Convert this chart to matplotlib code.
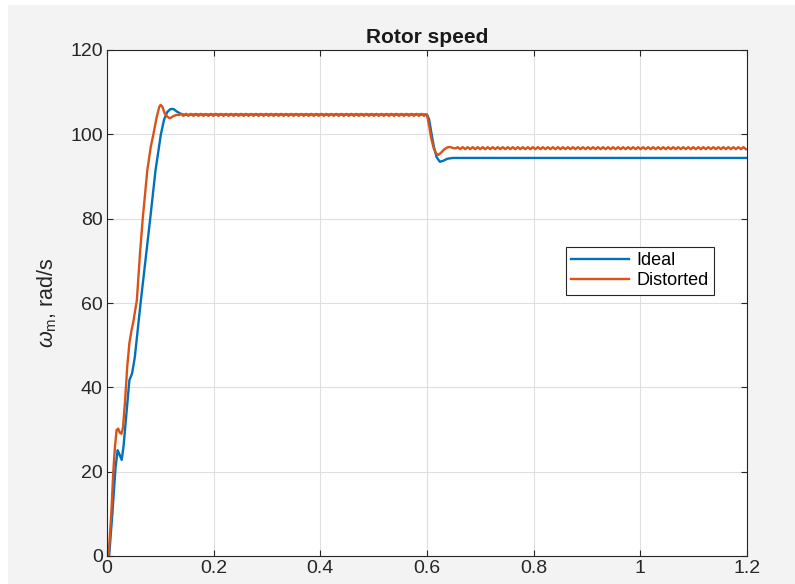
import numpy as np
import matplotlib
matplotlib.use("Agg")
import matplotlib.pyplot as plt
from matplotlib.patches import Rectangle

# --- data (time in s, speed in rad/s) ---
ideal_t = [0, 0.004, 0.010, 0.016, 0.020, 0.023, 0.0275, 0.031, 0.037, 0.042, 0.047,
           0.052, 0.063, 0.081, 0.091, 0.101, 0.107, 0.113, 0.119, 0.125, 0.131,
           0.138, 0.145, 0.160, 0.600, 0.604, 0.608, 0.613, 0.618, 0.624, 0.630,
           0.638, 0.648, 0.670, 1.2]
ideal_w = [0, 0, 10, 21, 25.1, 24.2, 22.8, 26, 34.6, 41.7, 43.3,
           47, 60, 80, 91.5, 100, 103.5, 105.3, 106, 106, 105.4,
           104.9, 104.6, 104.7, 104.7, 103.5, 100.5, 97, 94.6, 93.5, 93.7,
           94.2, 94.4, 94.4, 94.4]

dist_t = [0, 0.003, 0.008, 0.012, 0.015, 0.018, 0.021, 0.024, 0.027, 0.030, 0.034,
          0.038, 0.042, 0.046, 0.050, 0.056, 0.062, 0.067, 0.0756, 0.082, 0.087,
          0.093, 0.098, 0.1006, 0.104, 0.108, 0.113, 0.118, 0.124, 0.130]
dist_w = [0, 0, 10, 20.4, 26, 29.9, 30.2, 29.2, 29.0, 30.5, 37,
          45, 50.5, 53.5, 56, 60.7, 72, 80, 91.5, 97, 100,
          104, 106.5, 107, 106.5, 105, 104.2, 103.8, 104.3, 104.6]

dist_drop_t = [0.600, 0.604, 0.608, 0.613, 0.617, 0.621, 0.626, 0.632, 0.638, 0.643, 0.650]
dist_drop_w = [104.6, 102, 99, 96.5, 95.5, 95.1, 95.6, 96.4, 96.9, 97.0, 96.7]

dist_level_1 = 104.6   # steady speed before load step
dist_level_2 = 96.7    # steady speed after load step
ripple_period = 0.0094
ripple_shape = [0.0, 0.26, 0.05, -0.22]   # one ripple period, offsets in rad/s

x_ticks = [0, 0.2, 0.4, 0.6, 0.8, 1, 1.2]
x_labels = ['0', '0.2', '0.4', '0.6', '0.8', '1', '1.2']
y_ticks = [0, 20, 40, 60, 80, 100, 120]


def steady_with_ripple(t0, t1, level):
    dt = ripple_period / len(ripple_shape)
    t = np.arange(t0, t1, dt)
    w = level + np.resize(ripple_shape, len(t))
    return t, w


t1, w1 = steady_with_ripple(0.136, 0.598, dist_level_1)
t2, w2 = steady_with_ripple(0.655, 1.2001, dist_level_2)
orange_t = np.concatenate([dist_t, t1, dist_drop_t, t2])
orange_w = np.concatenate([dist_w, w1, dist_drop_w, w2])

plt.rcParams['font.family'] = ['Liberation Sans', 'DejaVu Sans']
plt.rcParams['mathtext.fontset'] = 'custom'
plt.rcParams['mathtext.it'] = 'Liberation Sans:italic'
plt.rcParams['mathtext.rm'] = 'Liberation Sans'

fig = plt.figure(figsize=(7.95, 5.84), dpi=100, facecolor='white')
fig.patches.append(Rectangle((8 / 795, 0), 1, 1 - 5 / 584, transform=fig.transFigure,
                             facecolor='#f3f3f3', edgecolor='none', zorder=-10))
ax = fig.add_axes([107 / 795, 28 / 584, 640 / 795, 506 / 584])
ax.set_facecolor('white')

ax.plot(ideal_t, ideal_w, color='#0072BD', lw=1.7, label='Ideal')
ax.plot(orange_t, orange_w, color='#D95319', lw=1.7, label='Distorted')

ax.set_xlim(0, 1.2)
ax.set_ylim(0, 120)
ax.set_xticks(x_ticks)
ax.set_xticklabels(x_labels)
ax.set_yticks(y_ticks)
ax.grid(True, color='#dfdfdf', lw=0.8)
ax.set_axisbelow(True)
ax.tick_params(direction='in', length=4.5, width=0.8, colors='#262626',
               labelsize=14, top=True, right=True, pad=3)
for s in ax.spines.values():
    s.set_color('#262626')
    s.set_linewidth(0.8)

ax.set_title('Rotor speed', fontsize=15, fontweight='bold', color='#1a1a1a', pad=5)
ax.set_ylabel(r'$\omega_\mathrm{m}$, rad/s', fontsize=15.5, color='#262626', labelpad=8)

leg = ax.legend(loc='upper left', bbox_to_anchor=(0.717, 0.6107), fontsize=13,
                fancybox=False, edgecolor='#262626', framealpha=1,
                handlelength=3.2, borderpad=0.3, labelspacing=0.15,
                handletextpad=0.4, borderaxespad=0)
leg.get_frame().set_linewidth(0.8)

fig.savefig('out.png', dpi=100, facecolor=fig.get_facecolor())
